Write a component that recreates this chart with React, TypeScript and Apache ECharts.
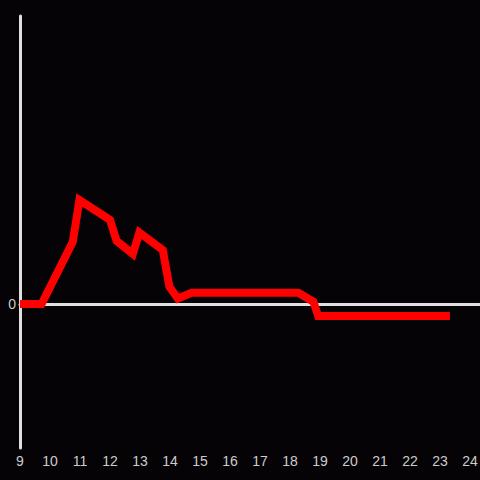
import React, { useEffect, useRef } from "react";
import * as echarts from "echarts";

const hours: number[] = [9, 9.72, 10.76, 10.98, 12.0, 12.22, 12.76, 12.98, 13.76, 13.98, 14.26, 14.72, 18.28, 18.78, 18.94, 23.33];
const values: number[] = [0, 0, 21.6, 36.1, 29.2, 21.9, 17.4, 24.8, 18.75, 6.0, 1.9, 3.9, 3.9, 0.8, -4.2, -4.2];
const xTickMin = 9;
const xTickMax = 24;

export default function App() {
  const ref = useRef<HTMLDivElement>(null);
  useEffect(() => {
    document.body.style.margin = "0";
    const chart = echarts.init(ref.current!, undefined, { renderer: "svg" });
    const data = hours.map((h, i) => [h, values[i]]);
    const font = "'Liberation Sans', Arial, sans-serif";
    chart.setOption({
      animation: false,
      backgroundColor: "#050305",
      grid: { left: 20, right: 0, top: 16, bottom: 32, containLabel: false, outerBoundsMode: "none" },
      xAxis: [
        {
          type: "value",
          min: xTickMin,
          max: xTickMax + 1 / 3,
          interval: 1,
          position: "bottom",
          axisLine: { show: false, onZero: false },
          axisTick: { show: false },
          splitLine: { show: false },
          axisLabel: {
            color: "#cccccc",
            fontSize: 14,
            fontFamily: font,
            margin: 6,
            formatter: (v: number) => (Number.isInteger(v) && v <= xTickMax ? String(v) : ""),
          },
        },
        {
          type: "value",
          min: xTickMin,
          max: xTickMax + 1 / 3,
          interval: 1,
          position: "top",
          axisLine: { show: true, onZero: true, lineStyle: { color: "#e0e0e0", width: 3 } },
          axisTick: { show: false },
          axisLabel: { show: false },
          splitLine: { show: false },
        },
      ],
      yAxis: {
        type: "value",
        min: -50,
        max: 100,
        interval: 50,
        axisLine: { show: true, onZero: false, lineStyle: { color: "#e0e0e0", width: 3 } },
        axisTick: { show: false },
        splitLine: { show: false },
        axisLabel: {
          color: "#cccccc",
          fontSize: 14,
          fontFamily: font,
          margin: 4,
          formatter: (v: number) => (v === 0 ? "0" : ""),
        },
      },
      series: [
        {
          type: "line",
          data,
          xAxisIndex: 0,
          symbol: "none",
          lineStyle: { color: "#ff0000", width: 8, cap: "butt", join: "miter" },
          z: 5,
        },
      ],
    });
    return () => chart.dispose();
  }, []);
  return <div ref={ref} style={{ position: "fixed", left: 0, top: 0, width: 480, height: 480 }} />;
}
